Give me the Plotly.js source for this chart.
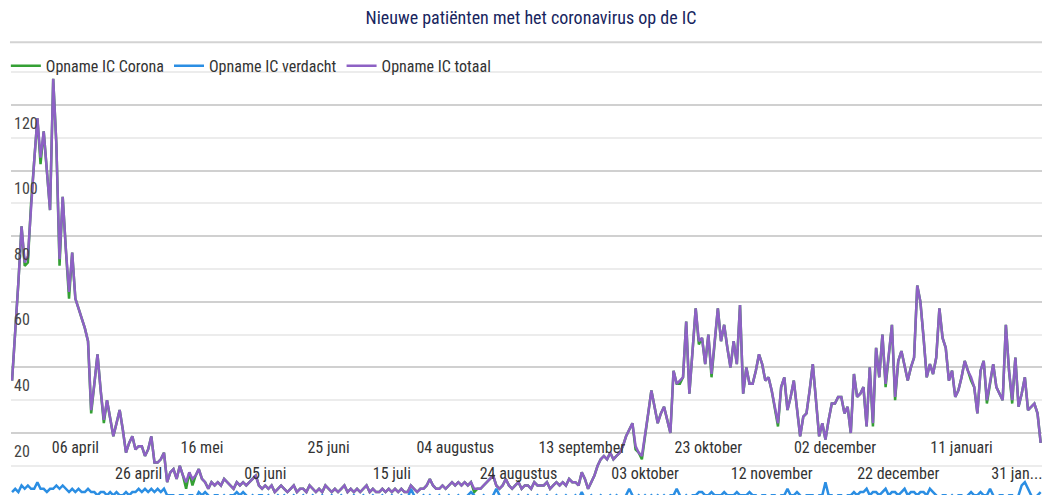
<!DOCTYPE html>
<html>
<head>
<meta charset="utf-8">
<script src="https://cdn.plot.ly/plotly-3.0.1.min.js"></script>
<style>html,body{margin:0;padding:0;background:#fff;}#chart{width:1042px;height:495px;}</style>
</head>
<body>
<div id="chart"></div>
<script>
// Daily values starting 17 maart 2020
const startDate = '2020-03-17';

const totaal = [
  36, 50, 66, 83, 72, 74, 90, 103, 116, 104, 112, 100, 88, 128, 108, 73, 92, 76, 63, 75, 61,
  58, 55, 52, 48, 27, 35, 44, 33, 24, 30, 25, 19, 23, 27, 21, 14, 17, 19, 15, 16, 16, 13, 15, 19, 11, 11, 12, 14, 5, 8,
  9, 6, 10, 7, 5, 8, 6, 7, 9, 6, 5, 3, 5, 4, 5, 4, 6, 5, 4, 3, 5, 4, 5, 4, 5, 6, 7, 4, 3, 4,
  3, 4, 2, 3, 4, 3, 2, 3, 4, 2, 3, 3, 2, 4, 3, 2, 3, 2, 4, 3, 2, 3, 2, 3, 4, 2, 3, 2, 3, 2,
  3, 4, 2, 3, 2, 2, 3, 2, 3, 2, 3, 2, 3, 2, 2, 4, 3, 2, 3, 3,
  4, 6, 4, 3, 3, 4, 3, 4, 5, 4, 5, 4, 5, 4, 5, 3, 3, 3, 4, 5, 6, 7, 4, 3, 4, 6, 4, 3, 4, 5, 3, 4, 4, 3, 5, 4, 4,
  4, 5, 3, 4, 5, 4, 5, 4, 6, 5,
  5, 4, 8, 6, 3, 5, 7, 10, 12, 13,
  12, 14, 12, 13, 14, 16, 19, 21, 23, 16, 14, 13,
  19, 26, 33, 28, 23, 26, 28, 24, 20, 39, 35, 36, 37, 54, 32, 45, 58, 48,
  49, 41, 50, 38, 48, 58, 48, 53, 46, 40,
  48, 41, 59, 32, 40, 35, 35, 39, 44, 41,
  36, 37, 33, 28, 23, 34, 37, 27, 31, 36,
  28, 19, 25, 26, 33, 41, 30, 19, 23, 18,
  24, 29, 29, 31, 31, 26, 28, 20, 38, 31,
  32, 34, 22, 40, 23, 46, 37, 50, 35, 44,
  53, 31, 42, 45, 40, 36, 40, 43, 65, 60,
  49, 37, 41, 38, 43, 58, 49, 46, 36, 39,
  31, 33,
  37, 42, 39, 37, 34, 26, 39, 42, 30, 35, 41, 34, 32, 30, 53, 39, 30, 43, 28, 32, 37, 27, 28, 29, 26, 17
];

const corona = [
  36, 50, 66, 83, 71, 72, 90, 103, 116, 102, 112, 100, 88, 128, 108, 71, 92, 76, 61, 75, 61,
  58, 55, 52, 48, 26, 35, 44, 33, 23, 30, 25, 19, 23, 27, 21, 14, 17, 19, 15, 16, 16, 13, 15, 19, 11, 11, 12, 14, 5, 8,
  9, 6, 10, 7, 3, 8, 4, 7, 9, 6, 5, 3, 5, 4, 5, 4, 6, 5, 4, 3, 5, 4, 5, 4, 5, 6, 7, 4, 3, 4,
  3, 4, 2, 3, 4, 3, 2, 3, 4, 2, 3, 3, 2, 4, 3, 2, 3, 2, 4, 3, 2, 3, 2, 3, 4, 2, 3, 2, 3, 2,
  3, 4, 2, 3, 2, 2, 3, 2, 3, 2, 3, 2, 3, 2, 2, 4, 3, 2, 3, 3,
  4, 6, 4, 3, 3, 4, 3, 4, 5, 4, 5, 4, 5, 4, 5, 2, 3, 3, 4, 5, 6, 7, 4, 3, 4, 6, 4, 3, 4, 5, 3, 4, 4, 3, 5, 4, 4,
  4, 5, 3, 4, 5, 4, 5, 4, 6, 5,
  5, 4, 8, 6, 3, 5, 7, 10, 12, 13,
  12, 14, 12, 13, 14, 16, 19, 21, 23, 15, 14, 12,
  19, 26, 33, 28, 23, 26, 28, 24, 20, 39, 35, 35, 37, 54, 32, 45, 58, 47,
  49, 41, 50, 37, 48, 58, 48, 53, 46, 40,
  48, 41, 59, 32, 40, 35, 35, 39, 44, 41,
  36, 37, 33, 28, 22, 34, 37, 27, 31, 36,
  28, 19, 25, 26, 33, 41, 30, 19, 23, 18,
  24, 29, 29, 31, 31, 26, 28, 20, 38, 31,
  32, 34, 22, 40, 22, 46, 37, 50, 34, 44,
  53, 30, 42, 45, 40, 36, 40, 43, 65, 60,
  49, 37, 41, 38, 43, 58, 49, 46, 36, 39,
  31, 33,
  37, 42, 39, 36, 34, 26, 39, 42, 29, 35, 41, 34, 32, 30, 53, 39, 29, 43, 28, 32, 37, 27, 28, 29, 26, 17
];

const verdacht = [
  2, 3, 2, 4, 3, 4, 3, 3, 5, 3, 3, 2, 3, 3, 4, 3, 4, 3, 2, 3, 2,
  3, 2, 2, 3, 2, 2, 1, 2, 2, 1, 2, 1, 2, 1, 1, 2, 1, 2, 2, 3, 2, 3, 2, 3, 2, 3, 2, 3, 1, 1,
  1, 0, 1, 1, 0, 1, 1, 0, 2, 1, 2, 1, 0, 1, 1, 0, 1, 0, 1, 1, 2, 1, 2, 1, 0, 1, 0, 1, 1, 0,
  1, 0, 0, 1, 0, 1, 0, 0, 1, 0, 0, 1, 0, 0, 1, 0, 0, 1, 0, 0, 1, 0, 0, 1, 0, 0, 0, 1, 0, 0,
  1, 0, 0, 1, 0, 0, 1, 0, 0, 1, 0, 0, 1, 0, 0, 3, 1, 0, 0, 1,
  0, 1, 0, 0, 1, 0, 0, 1, 0, 0, 1, 0, 0, 1, 2, 1, 0, 0, 1, 0, 0, 1, 3, 1, 0, 0, 1, 0, 0, 1, 0, 0, 1, 0, 0, 1, 0,
  0, 1, 0, 0, 1, 0, 0, 1, 0, 0,
  1, 0, 2, 0, 0, 1, 0, 0, 1, 0,
  0, 1, 0, 1, 0, 0, 1, 3, 1, 0, 1, 0,
  1, 0, 1, 0, 1, 0, 1, 0, 1, 1, 3, 1, 0, 1, 0, 1, 1, 2,
  2, 1, 1, 2, 1, 1, 1, 2, 1, 1,
  1, 2, 1, 1, 1, 2, 1, 1, 0, 1,
  1, 0, 1, 1, 0, 1, 1, 3, 1, 1,
  2, 1, 0, 1, 1, 1, 0, 1, 1, 5,
  1, 1, 0, 1, 1, 0, 1, 1, 2, 1,
  2, 2, 3, 1, 2, 2, 1, 2, 3, 1,
  2, 2, 1, 2, 3, 1, 2, 2, 1, 2,
  2, 1, 3, 2, 1, 0, 1, 1, 0, 1,
  0, 1,
  1, 0, 1, 2, 1, 1, 2, 1, 1, 3, 1, 0, 1, 1, 0, 1, 1, 0, 1, 4, 5, 3, 1, 0, 1, 2
];

const tickDatesRow1 = ['2020-04-06', '2020-05-16', '2020-06-25', '2020-08-04', '2020-09-13', '2020-10-23', '2020-12-02', '2021-01-11'];
const tickLabelsRow1 = ['06 april', '16 mei', '25 juni', '04 augustus', '13 september', '23 oktober', '02 december', '11 januari'];
const tickDatesRow2 = ['2020-04-26', '2020-06-05', '2020-07-15', '2020-08-24', '2020-10-03', '2020-11-12', '2020-12-22'];
const tickLabelsRow2 = ['26 april', '05 juni', '15 juli', '24 augustus', '03 oktober', '12 november', '22 december'];
const tickDatesLast = ['2021-01-31'];
const tickLabelsLast = ['31 jan...'];
const yTickVals = [20, 40, 60, 80, 100, 120];
const yTickText = ['20', '40', '60', '80', '100', '120'];
const yMinorVals = [10, 30, 50, 70, 90, 110, 130];

const seriesNames = ['Opname IC Corona', 'Opname IC verdacht', 'Opname IC totaal'];
const seriesColors = ['#34a034', '#2b8ee3', '#8d61c4'];
const seriesAxes = ['x', 'x2', 'x3'];

// build daily dates
const dates = [];
const t0 = Date.parse(startDate + 'T00:00:00Z');
for (let i = 0; i < totaal.length; i++) {
  dates.push(new Date(t0 + i * 86400000).toISOString().slice(0, 10));
}

const FONT = 'Liberation Sans Narrow, Arial Narrow, Roboto Condensed, sans-serif';

const traces = [corona, verdacht, totaal].map((vals, i) => ({
  type: 'scatter', mode: 'lines', x: dates, y: vals, name: seriesNames[i],
  xaxis: seriesAxes[i],
  line: {color: seriesColors[i], width: 2.5, shape: 'linear'},
  hoverinfo: 'skip'
}));

const xRange = ['2020-03-16 16:00', '2021-02-05 10:00'];
const tickFont = {family: FONT, size: 16, color: '#333333'};

function dateAxis(vals, texts, standoff, shift, overlay) {
  const ax = {
    type: 'date', range: xRange, showgrid: false, zeroline: false, showline: false, ticks: '',
    tickmode: 'array', tickvals: vals, ticktext: texts,
    ticklabelposition: 'inside', ticklabelstandoff: standoff, ticklabelshift: shift,
    ticklabeloverflow: 'allow', tickfont: tickFont, fixedrange: true
  };
  if (overlay) { ax.overlaying = 'x'; ax.anchor = 'y'; ax.side = 'bottom'; }
  return ax;
}

const layout = {
  width: 1042, height: 495,
  margin: {l: 11, r: 0, t: 71, b: 0, pad: 0},
  paper_bgcolor: '#ffffff', plot_bgcolor: '#ffffff',
  title: {
    text: 'Nieuwe patiënten met het coronavirus op de IC',
    font: {family: FONT, size: 18, color: '#17255e'},
    x: 0.5096, xref: 'container', xanchor: 'center',
    y: 0.9636, yref: 'container', yanchor: 'middle'
  },
  showlegend: true,
  legend: {
    orientation: 'h', x: -0.005, xanchor: 'left', y: 1.012, yanchor: 'middle',
    font: {family: FONT, size: 16, color: '#333333'}, bgcolor: 'rgba(0,0,0,0)'
  },
  xaxis: dateAxis(tickDatesRow1, tickLabelsRow1, 36, 0, false),
  xaxis2: dateAxis(tickDatesRow2, tickLabelsRow2, 10, 0, true),
  xaxis3: dateAxis(tickDatesLast, tickLabelsLast, 10, -8, true),
  yaxis: {
    range: [1.1, 130.4], tickmode: 'array', tickvals: yTickVals, ticktext: yTickText,
    showgrid: true, gridcolor: '#d0d0d0', gridwidth: 2, zeroline: false, showline: false, ticks: '',
    ticklabelposition: 'inside', ticklabelshift: 18, ticklabeloverflow: 'allow',
    tickfont: {family: FONT, size: 16, color: '#444444'}, fixedrange: true,
    minor: {tickmode: 'array', tickvals: yMinorVals, showgrid: true, gridcolor: '#ececec', gridwidth: 2, ticks: ''}
  },
  shapes: [{
    type: 'line', xref: 'paper', yref: 'paper', x0: -0.001, x1: 1, y0: 1.068, y1: 1.068,
    line: {color: '#d3d3d3', width: 2}
  }],
  hovermode: false
};

Plotly.newPlot('chart', traces, layout, {displayModeBar: false, staticPlot: true});
</script>
</body>
</html>
